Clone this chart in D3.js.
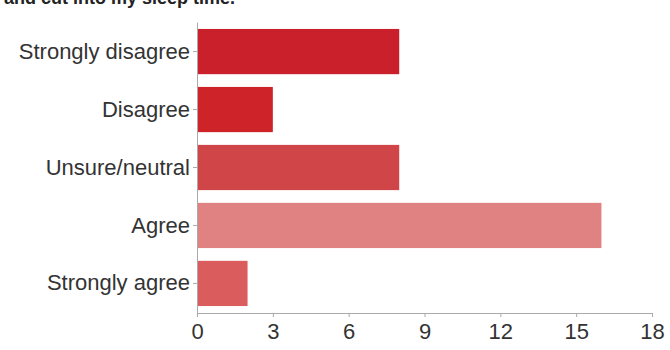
<html>
  <head>
    <script src="https://d3js.org/d3.v7.min.js"></script>
    <style>
      body { margin: 0; background: #fff; }
      text { font-family: "Liberation Sans", Arial, sans-serif; }
    </style>
  </head>
  <body>
    <div id="chart"></div>
    <script>
      var categories = ["Strongly disagree", "Disagree", "Unsure/neutral", "Agree", "Strongly agree"];
      var counts = [8, 3, 8, 16, 2];
      var barColors = ["#c9202b", "#cd2329", "#d04547", "#e08282", "#da5c5c"];
      var tickValues = [0, 3, 6, 9, 12, 15, 18];
      var title = "and cut into my sleep time.";

      var width = 670, height = 350;

      var svg = d3.select("#chart")
        .append("svg")
          .attr("width", width)
          .attr("height", height);

      // title is cut off at the top in the original screenshot
      svg.append("text")
        .attr("x", 4)
        .attr("y", 4)
        .attr("font-size", 18)
        .attr("font-weight", "bold")
        .attr("fill", "#222")
        .text(title);

      var x = d3.scaleLinear()
        .domain([0, 18])
        .range([197, 652]);

      var y = d3.scaleBand()
        .domain(categories)
        .range([22, 313])
        .paddingInner(0.22)
        .paddingOuter(0.12);

      var data = categories.map(function(c, i) {
        return {cat: c, value: counts[i], color: barColors[i]};
      });

      svg.selectAll("rect.bar")
        .data(data)
        .enter().append("rect")
          .attr("class", "bar")
          .attr("x", x(0))
          .attr("y", function(d) { return y(d.cat); })
          .attr("width", function(d) { return x(d.value) - x(0); })
          .attr("height", y.bandwidth())
          .attr("fill", function(d) { return d.color; });

      var xAxis = svg.append("g")
        .attr("transform", "translate(0,313)")
        .call(d3.axisBottom(x).tickValues(tickValues).tickSize(4).tickSizeOuter(4).tickPadding(6));

      xAxis.selectAll("text")
        .attr("font-size", 22)
        .attr("fill", "#333")
        .style("font-family", "Liberation Sans, Arial, sans-serif");

      var yAxis = svg.append("g")
        .attr("transform", "translate(197,0)")
        .call(d3.axisLeft(y).tickSize(4).tickSizeOuter(0).tickPadding(3));

      yAxis.selectAll("text")
        .attr("font-size", 22)
        .attr("fill", "#333")
        .style("font-family", "Liberation Sans, Arial, sans-serif");

      svg.selectAll(".domain, .tick line")
        .attr("stroke", "#aaa");
    </script>
  </body>
</html>
